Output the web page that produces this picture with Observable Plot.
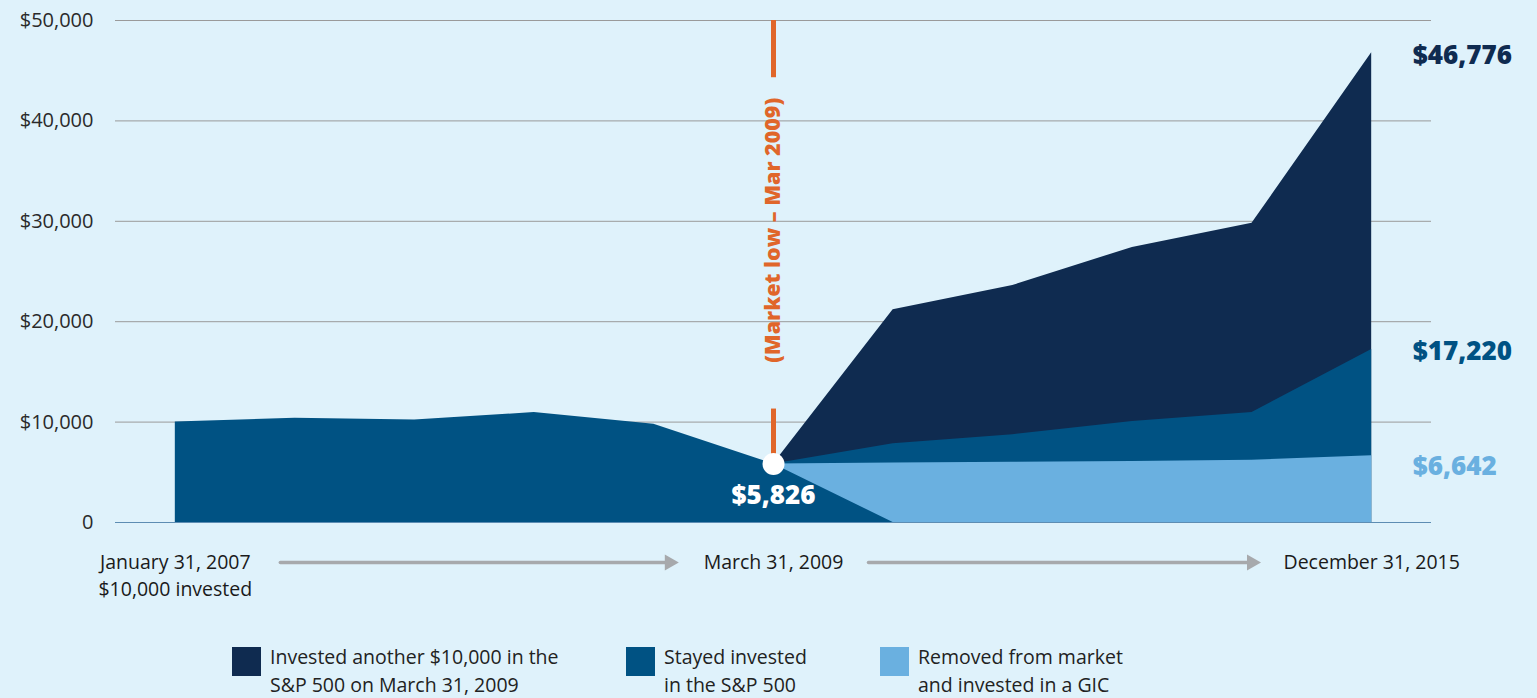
<!DOCTYPE html>
<html>
<head>
<meta charset="utf-8">
<script src="https://cdn.jsdelivr.net/npm/d3@7"></script>
<script src="https://cdn.jsdelivr.net/npm/@observablehq/plot@0.6"></script>
<style>
  html, body { margin: 0; padding: 0; background: #dff2fb; }
  #wrap { position: relative; width: 1537px; height: 698px; overflow: hidden; font-family: "Open Sans", sans-serif; }
  .leg { position: absolute; top: 646px; display: flex; align-items: flex-start; }
  .sw { width: 29px; height: 29px; margin-top: 1px; margin-right: 9px; }
  .lt { font-size: 19.5px; line-height: 28px; color: #222; margin-top: -3px; }
</style>
</head>
<body>
<div id="wrap"></div>
<script>
// ---- data ----
const periodIndex = [0, 1, 2, 3, 4, 5, 6, 7, 8, 9, 10];
const beforeLow = [10000, 10380, 10220, 10950, 9780, 5826, 0];           // idx 0..6
const investedMore = [5826, 21200, 23600, 27400, 29800, 46776];          // idx 5..10
const stayedInvested = [5826, 7850, 8750, 10050, 10950, 17220];          // idx 5..10
const movedToGIC = [5826, 5930, 5990, 6080, 6200, 6642];                 // idx 5..10
const lowIndex = 5;
const lowValue = 5826;
const yTicks = [0, 10000, 20000, 30000, 40000, 50000];
const dateLabels = ["January 31, 2007\n$10,000 invested", "March 31, 2009", "December 31, 2015"];
const dateIndex = [0, 5, 10];
const endLabels = ["$46,776", "$17,220", "$6,642"];
const markerGaps = [[lowValue, 11300], [44300, 50000]];
const seriesNames = ["Invested another $10,000 in the\nS&P 500 on March 31, 2009", "Stayed invested\nin the S&P 500", "Removed from market\nand invested in a GIC"];
const colors = ["#0f2b50", "#005283", "#6ab0e0"];
const orange = "#e0662a";
const arrowGrey = "#a7a9ac";

const pre = beforeLow.map((v, i) => ({x: periodIndex[i], y: v}));
const post = (arr) => arr.map((v, i) => ({x: periodIndex[i + lowIndex], y: v}));
const endVals = [investedMore.at(-1), stayedInvested.at(-1), movedToGIC.at(-1)];
const endDy = [3, 2, 11];
const fmt = d => "$" + d3.format(",")(d);

const endMarks = endLabels.map((t, i) =>
  Plot.text([endVals[i]], {x: 10, y: d => d, text: () => t, fill: colors[i], textAnchor: "start",
    dx: 41, dy: endDy[i], fontWeight: 800, fontSize: 26})
);

const chart = Plot.plot({
  width: 1537,
  height: 630,
  marginTop: 20,
  marginBottom: 108,
  marginLeft: 115,
  marginRight: 106,
  style: {background: "#dff2fb", fontFamily: "Open Sans, sans-serif", overflow: "visible"},
  x: {domain: [-0.5, 10.5], axis: null},
  y: {domain: [0, 50000], ticks: yTicks, label: null},
  marks: [
    Plot.gridY(yTicks, {stroke: "#9a9a9a", strokeOpacity: 1, strokeWidth: 1}),
    Plot.axisY(yTicks, {tickSize: 0, tickPadding: 22, fontSize: 20, fill: "#2a2a2a", label: null,
      tickFormat: d => d === 0 ? "0" : fmt(d)}),
    Plot.areaY(post(investedMore), {x: "x", y: "y", fill: colors[0]}),
    Plot.areaY(post(stayedInvested), {x: "x", y: "y", fill: colors[1]}),
    Plot.areaY(post(movedToGIC), {x: "x", y: "y", fill: colors[2]}),
    Plot.areaY(pre, {x: "x", y: "y", fill: colors[1]}),
    Plot.ruleY([0], {stroke: "#5d8db3", strokeWidth: 1}),
    Plot.ruleX(markerGaps, {x: lowIndex, y1: d => d[0], y2: d => d[1], stroke: orange, strokeWidth: 5}),
    Plot.text(["(Market low – Mar 2009)"], {x: lowIndex, y: 29100, rotate: -90, fill: orange,
      fontWeight: 800, fontSize: 21.5}),
    Plot.dot([lowValue], {x: lowIndex, y: d => d, r: 11, fill: "white"}),
    Plot.text([lowValue], {x: lowIndex, y: d => d, dy: 32, text: fmt,
      fill: "white", fontWeight: 800, fontSize: 26}),
    ...endMarks,
    Plot.text(dateLabels, {x: (d, i) => dateIndex[i], y: 0, dy: 28, lineAnchor: "top",
      lineHeight: 1.35, fontSize: 19.5, fill: "#1a1a1a", text: d => d}),
    // arrow shafts
    Plot.arrow([[0, 5]], {x1: d => d[0], x2: d => d[1], y1: 0, y2: 0, dy: 40, insetStart: 105,
      insetEnd: 105, stroke: arrowGrey, strokeWidth: 3.5, headLength: 0}),
    Plot.arrow([[5, 10]], {x1: d => d[0], x2: d => d[1], y1: 0, y2: 0, dy: 40, insetStart: 95,
      insetEnd: 121, stroke: arrowGrey, strokeWidth: 3.5, headLength: 0}),
    // arrow heads
    Plot.dot([5], {x: d => d, y: 0, dx: -104, dy: 40, symbol: "triangle", rotate: 90, r: 6,
      fill: arrowGrey, stroke: "none"}),
    Plot.dot([10], {x: d => d, y: 0, dx: -120, dy: 40, symbol: "triangle", rotate: 90, r: 6,
      fill: arrowGrey, stroke: "none"})
  ]
});
const wrap = document.getElementById("wrap");
wrap.appendChild(chart);

// widen the bold figures a little (Proxima-like proportions)
d3.select(chart).selectAll("text").filter(function () {
  return /^\$\d/.test(this.textContent) && +this.getAttribute("font-weight") === 800;
}).style("letter-spacing", "0.6px");

const legendLeft = [232, 626, 880];
seriesNames.forEach((name, i) => {
  const item = document.createElement("div");
  item.className = "leg";
  item.style.left = legendLeft[i] + "px";
  const sw = document.createElement("div");
  sw.className = "sw";
  sw.style.background = colors[i];
  const lt = document.createElement("div");
  lt.className = "lt";
  lt.innerHTML = name.split("\n").join("<br>");
  item.appendChild(sw);
  item.appendChild(lt);
  wrap.appendChild(item);
});
</script>
</body>
</html>
